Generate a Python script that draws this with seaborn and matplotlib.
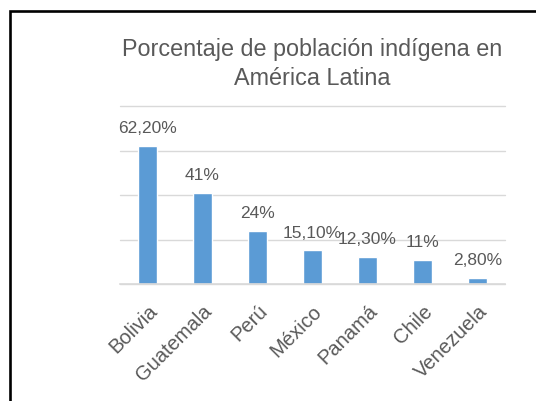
import matplotlib
matplotlib.use("Agg")
import matplotlib.pyplot as plt
import matplotlib.patches as mpatches
import seaborn as sns

# data
paises = ["Bolivia", "Guatemala", "Perú", "México", "Panamá", "Chile", "Venezuela"]
porcentajes = [62.2, 41, 24, 15.1, 12.3, 11, 2.8]
etiquetas = ["62,20%", "41%", "24%", "15,10%", "12,30%", "11%", "2,80%"]
titulo = "Porcentaje de población indígena en\nAmérica Latina"

sns.set_style("white")
plt.rcParams["font.family"] = ["Liberation Sans", "DejaVu Sans"]

gris_texto = "#595959"
gris_grid = "#D9D9D9"
azul = "#5B9BD5"

fig = plt.figure(figsize=(5.36, 4.02), dpi=100)
W, H = 536, 402
# plot area in pixels: x 120..505, y 107..285
ax = fig.add_axes([120 / W, 1 - 285 / H, 385 / W, 178 / H])

sns.barplot(x=paises, y=porcentajes, color=azul, saturation=1, width=0.33, ax=ax, zorder=2)

ax.set_ylim(0, 80)
ax.set_yticks([0, 20, 40, 60, 80])
ax.set_yticklabels([])
ax.yaxis.grid(True, color=gris_grid, linewidth=1.0, zorder=0)
for gl in ax.get_ygridlines():
    gl.set_clip_on(False)
ax.set_axisbelow(True)
for side in ["top", "right", "left"]:
    ax.spines[side].set_visible(False)
ax.spines["bottom"].set_color(gris_grid)
ax.spines["bottom"].set_linewidth(1.2)
ax.tick_params(axis="both", length=0)
ax.tick_params(axis="x", pad=12)
ax.set_xlabel("")
ax.set_ylabel("")

# rotated labels hang from their top-right corner at the tick
for lbl in ax.get_xticklabels():
    lbl.set_rotation(45)
    lbl.set_ha("right")
    lbl.set_va("top")
    lbl.set_rotation_mode("anchor")
    lbl.set_fontsize(14.5)
    lbl.set_color(gris_texto)

ax.bar_label(ax.containers[0], labels=etiquetas, padding=7.5,
             fontsize=12.5, color=gris_texto)

fig.text(312.5 / W, 1 - 38 / H, titulo, ha="center", va="top",
         fontsize=16.8, color=gris_texto, linespacing=1.33)

# black frame that runs off the right and bottom edges
marco = mpatches.Rectangle((9.5 / W, -0.1), 1.2, (H - 12) / H + 0.1,
                           transform=fig.transFigure, fill=False,
                           edgecolor="black", linewidth=1.9, clip_on=False)
fig.patches.append(marco)

fig.savefig("out.png", dpi=100)
